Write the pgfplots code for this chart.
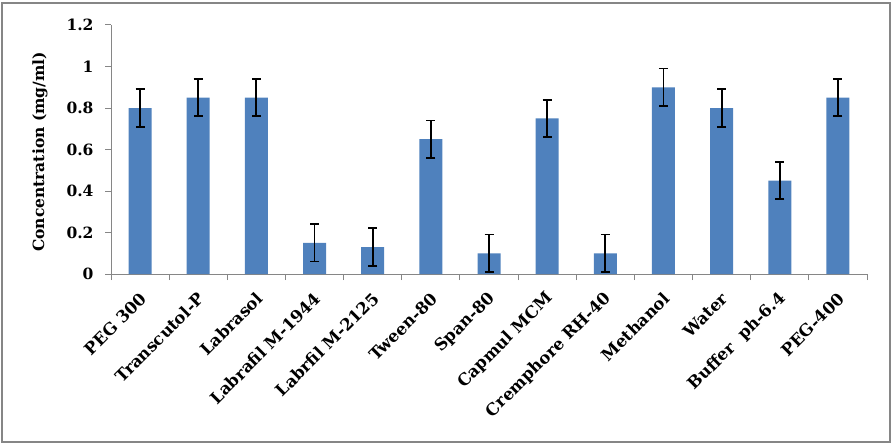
\documentclass[border=0pt]{standalone}
\usepackage{pgfplots}
\pgfplotsset{compat=1.18}
\usepackage{fontspec}
\setmainfont{DejaVu Serif}
\definecolor{barblue}{HTML}{4F81BD}
\definecolor{framegray}{HTML}{868686}
\begin{document}
\begin{tikzpicture}
\useasboundingbox (0,0) rectangle (893pt,445pt);
\draw[color=framegray, line width=2pt] (2pt,3pt) rectangle (890pt,442pt);
\begin{axis}[
  at={(111pt,171pt)}, anchor=south west,
  scale only axis, width=756pt, height=249pt,
  xmin=0, xmax=13, ymin=0, ymax=1.2,
  axis lines=left,
  axis line style={-, framegray, line width=1pt},
  tick style={framegray, line width=1pt},
  tick align=outside,
  major tick length=6pt, minor tick length=6pt,
  ytick={0,0.2,0.4,0.6,0.8,1,1.2},
  yticklabels={0,0.2,0.4,0.6,0.8,1,1.2},
  xtick={0.5,1.5,...,12.5},
  minor xtick={0,1,...,13},
  major x tick style={draw=none},
  xticklabels={PEG 300,Transcutol-P,Labrasol,Labrafil M-1944,Labrfil M-2125,Tween-80,Span-80,Capmul MCM,Cremphore RH-40,Methanol,Water,Buffer\ \ ph-6.4,PEG-400},
  yticklabel style={font=\bfseries\fontsize{15.5}{16}\selectfont, xshift=-8pt},
  xticklabel style={font=\bfseries\fontsize{16.5}{17}\selectfont, xshift=4pt, yshift=-15pt, rotate=45, anchor=east, inner sep=1pt},
  ylabel={Concentration (mg/ml)},
  every axis y label/.style={at={(axis description cs:-0.0939,0.49)}, rotate=90, anchor=center, font=\bfseries\fontsize{15.5}{16}\selectfont},
]
\addplot[ybar, bar width=23pt, fill=barblue, draw=none,
  error bars/.cd, y dir=both, y explicit,
  error bar style={black, line width=1.8pt},
  error mark options={rotate=90, mark size=4.5pt, line width=1.8pt, black}]
coordinates {
 (0.5,0.80) +- (0,0.09)
 (1.5,0.85) +- (0,0.09)
 (2.5,0.85) +- (0,0.09)
 (3.5,0.15) +- (0,0.09)
 (4.5,0.13) +- (0,0.09)
 (5.5,0.65) +- (0,0.09)
 (6.5,0.10) +- (0,0.09)
 (7.5,0.75) +- (0,0.09)
 (8.5,0.10) +- (0,0.09)
 (9.5,0.90) +- (0,0.09)
 (10.5,0.80) +- (0,0.09)
 (11.5,0.45) +- (0,0.09)
 (12.5,0.85) +- (0,0.09)
};
\end{axis}
\end{tikzpicture}
\end{document}
